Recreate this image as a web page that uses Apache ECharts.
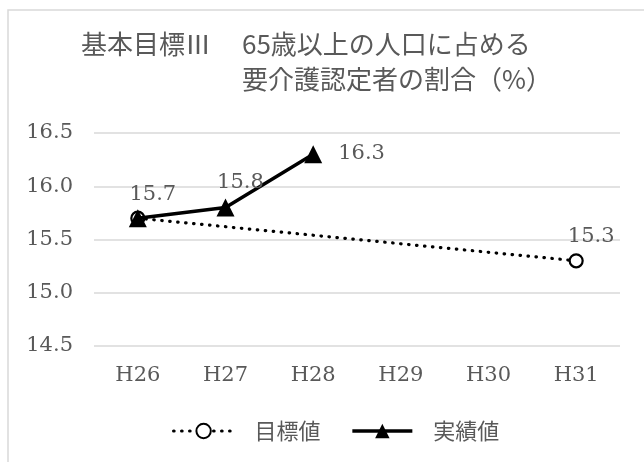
<!DOCTYPE html>
<html>
<head>
<meta charset="utf-8">
<script src="https://cdn.jsdelivr.net/npm/echarts@6/dist/echarts.min.js"></script>
<style>
  html, body { margin: 0; padding: 0; background: #fff; }
  #chart { width: 644px; height: 462px; }
</style>
</head>
<body>
<div id="chart"></div>
<script>
// Fiscal years (Heisei)
const years = ['H26', 'H27', 'H28', 'H29', 'H30', 'H31'];
// Target: start and goal only, joined across the gap
const targetValues = [15.7, null, null, null, null, 15.3];
// Actual results so far
const actualValues = [15.7, 15.8, 16.3, null, null, null];
// Y-axis range
const yMin = 14.5;
const yMax = 16.5;
const yStep = 0.5;

const titleHead = '基本目標Ⅲ';
const titleLine1 = '65歳以上の人口に占める';
const titleLine2 = '要介護認定者の割合（%）';
const targetName = '目標値';
const actualName = '実績値';

const SERIF = '"DejaVu Serif", "Noto Sans CJK JP", serif';
const CJK = '"Noto Sans CJK JP", "DejaVu Serif", sans-serif';
const GREY = '#595959';

// Per-point label placement for each series
const topLabel = { show: true, position: 'top', distance: 6, offset: [15, 0] };
const targetLabels = [topLabel, null, null, null, null, topLabel];
const actualLabels = [null, topLabel, { show: true, position: 'right', distance: 16, offset: [0, -1] }, null, null, null];

function withLabels(values, labels) {
  return values.map((v, i) => labels[i] ? { value: v, label: labels[i] } : v);
}

const titleText = { fontFamily: CJK, fontSize: 26, fontWeight: 'normal', color: GREY };
const dotted = [0.5, 7.5];

const chart = echarts.init(document.getElementById('chart'));
chart.setOption({
  backgroundColor: '#fff',
  animation: false,
  textStyle: { fontFamily: SERIF },
  graphic: [{
    type: 'rect',
    shape: { x: 8, y: 10, width: 700, height: 500 },
    style: { fill: 'none', stroke: '#d9d9d9', lineWidth: 1.5 },
    silent: true, z: -10
  }],
  title: [
    { text: titleHead, left: 81, top: 31, padding: 0, textStyle: titleText },
    { text: titleLine1, left: 242, top: 31, padding: 0, textStyle: titleText },
    { text: titleLine2, left: 242, top: 66, padding: 0, textStyle: titleText }
  ],
  legend: {
    left: 172, top: 420, padding: 0,
    itemWidth: 60, itemHeight: 18, itemGap: 30,
    textStyle: { fontFamily: CJK, fontSize: 22, color: GREY, padding: [0, 0, 0, 16] },
    data: [
      { name: targetName, lineStyle: { width: 3.2, type: dotted, cap: 'round' } },
      { name: actualName, lineStyle: { width: 3.5 } }
    ]
  },
  grid: { left: 94, right: 24, top: 133, bottom: 116 },
  xAxis: {
    type: 'category',
    data: years,
    boundaryGap: true,
    axisLine: { show: false },
    axisTick: { show: false },
    axisLabel: { fontFamily: SERIF, fontSize: 21, color: GREY, margin: 19 }
  },
  yAxis: {
    type: 'value',
    min: yMin, max: yMax, interval: yStep,
    axisLine: { show: false },
    axisTick: { show: false },
    splitLine: { lineStyle: { color: '#d9d9d9', width: 1.5 } },
    axisLabel: { fontFamily: SERIF, fontSize: 21, color: GREY, margin: 21,
      formatter: v => v.toFixed(1) }
  },
  series: [
    {
      name: targetName,
      type: 'line',
      connectNulls: true,
      data: withLabels(targetValues, targetLabels),
      symbol: 'circle', symbolSize: 13,
      itemStyle: { color: '#fff', borderColor: '#000', borderWidth: 2.2 },
      lineStyle: { color: '#000', width: 3.2, type: dotted, cap: 'round' },
      label: { show: false, fontFamily: SERIF, fontSize: 21, color: GREY,
        formatter: p => p.value.toFixed(1) },
      z: 2
    },
    {
      name: actualName,
      type: 'line',
      data: withLabels(actualValues, actualLabels),
      symbol: 'triangle', symbolSize: 18,
      itemStyle: { color: '#000' },
      lineStyle: { color: '#000', width: 3.5 },
      label: { show: false, fontFamily: SERIF, fontSize: 21, color: GREY,
        formatter: p => p.value.toFixed(1) },
      z: 3
    }
  ]
});
</script>
</body>
</html>
